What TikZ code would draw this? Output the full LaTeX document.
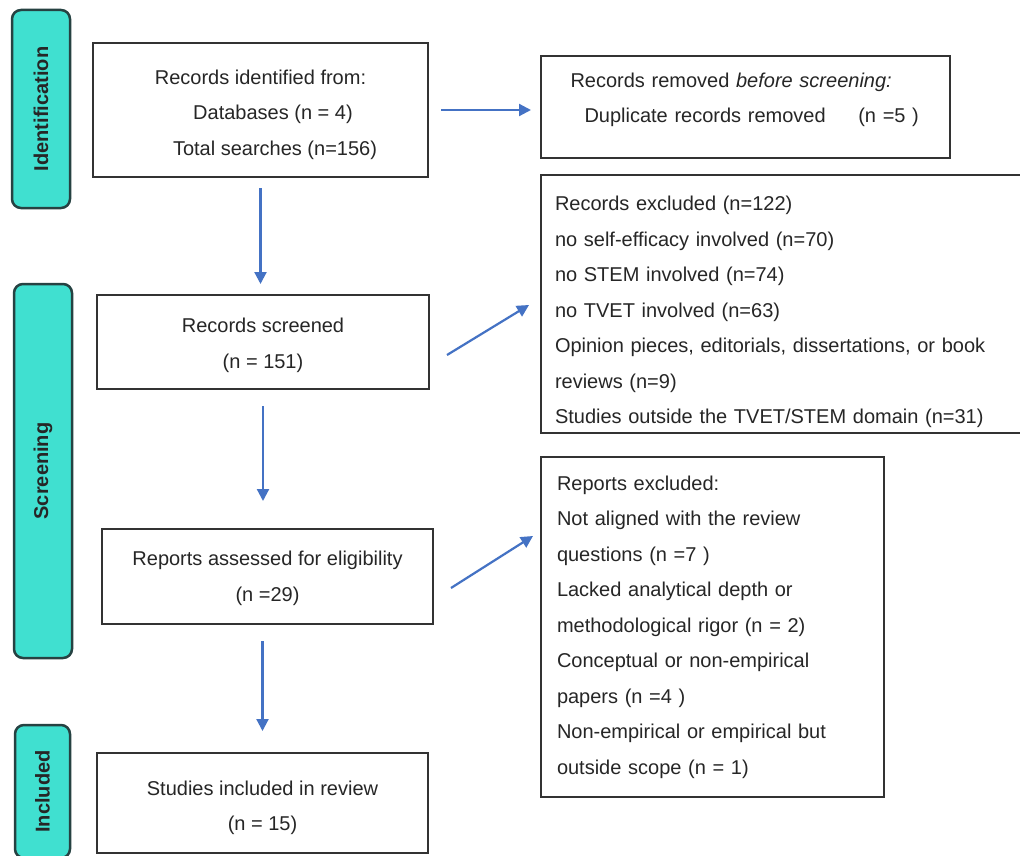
\documentclass[tikz,border=0pt]{standalone}
\usepackage{fontspec}
\setmainfont{Liberation Sans}
\usetikzlibrary{arrows.meta}
\definecolor{phasefill}{RGB}{64,224,208}
\definecolor{phaseline}{RGB}{38,66,66}
\definecolor{flowblue}{RGB}{68,114,196}
\definecolor{inkgray}{RGB}{38,38,38}

\begin{document}
\begin{tikzpicture}[x=1pt,y=-1pt,line width=2pt,
  phase/.style={draw=phaseline,fill=phasefill,line width=2.5pt,rounded corners=9pt,inner sep=0pt,
    rotate=90,text=inkgray,font=\fontsize{20}{24}\selectfont\bfseries},
  record/.style={draw=black!80,line width=2pt,inner sep=0pt,text=inkgray,
    font=\fontsize{20}{35.5}\selectfont},
  flow/.style={draw=flowblue,line width=2.2pt,-{Triangle[length=12pt,width=12pt]}}]
\useasboundingbox (0,0) rectangle (1020,856);
\fill[white] (0,0) rectangle (1020,856);
\clip (0,0) rectangle (1020,856);
% Bandes des phases, texte vertical.
\node[phase,minimum width=198pt,minimum height=58pt] (idphase) at (41,109) {Identification};
\node[phase,minimum width=374pt,minimum height=58pt] (scphase) at (43,471) {Screening};
\node[phase,minimum width=133pt,minimum height=55pt] (inphase) at (42.5,791.5) {Included};
% Colonne principale.
\node[record,minimum width=335pt,minimum height=134pt,align=center] (ident) at (260.5,110)
  {\rule{0pt}{23.5pt}Records identified from:\\\hspace*{25pt}Databases (n = 4)\\\hspace*{29pt}Total searches (n=156)};
\node[record,minimum width=332pt,minimum height=94pt,align=center] (screened) at (263,342)
  {\rule{0pt}{21.5pt}Records screened\\(n = 151)};
\node[record,minimum width=331pt,minimum height=95pt,align=center] (assessed) at (267.5,576.5)
  {\rule{0pt}{18.5pt}Reports assessed for eligibility\\(n =29)};
\node[record,minimum width=331pt,minimum height=100pt,align=center] (studies) at (262.5,803)
  {\rule{0pt}{24.5pt}Studies included in review\\(n = 15)};
% Colonne des exclusions.
\node[record,minimum width=409pt,minimum height=102pt,text width=350pt,align=left] (removed) at (745.5,107)
  {Records removed \textit{before screening:}\\\hspace*{14pt}Duplicate records removed\hspace{26pt} (n =5 )\rule[-18.5pt]{0pt}{0pt}};
\node[record,minimum width=485pt,minimum height=258pt,text width=457pt,align=left] (rexcl) at (783.5,304)
  {\rule{0pt}{30.5pt}Records excluded (n=122)\\no self-efficacy involved (n=70)\\no STEM involved (n=74)\\no TVET involved (n=63)\\
   Opinion pieces, editorials, dissertations, or book\\reviews (n=9)\\Studies outside the TVET/STEM domain (n=31)};
\node[record,minimum width=343pt,minimum height=340pt,text width=311pt,align=left] (repexcl) at (712.5,627)
  {Reports excluded:\\Not aligned with the review\\questions (n =7 )\\Lacked analytical depth or\\
   methodological rigor (n = 2)\\Conceptual or non-empirical\\papers (n =4 )\\Non-empirical or empirical but\\
   outside scope (n = 1)};
% Fleches bleues.
\draw[flow,shorten <=12pt,shorten >=9pt] (ident.east) -- (ident.east -| removed.west);
\draw[flow,shorten <=10pt,shorten >=10pt] (ident.south) -- (ident.south |- screened.north);
\draw[flow,shorten <=16pt,shorten >=27pt] (screened.south) -- (screened.south |- assessed.north);
\draw[flow,shorten <=16pt,shorten >=21pt] (studies.north |- assessed.south) -- (studies.north);
\draw[flow] ([xshift=17pt,yshift=-13pt]screened.east) -- ([xshift=-11pt,yshift=-1pt]rexcl.west);
\draw[flow] ([xshift=17pt,yshift=-11.5pt]assessed.east) -- ([xshift=-7pt,yshift=-80pt]repexcl.north west);
\end{tikzpicture}
\end{document}
